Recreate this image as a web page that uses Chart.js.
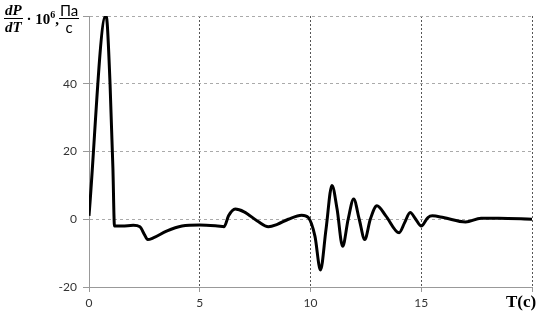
<!DOCTYPE html>
<html>
<head>
<meta charset="utf-8">
<script src="https://cdn.jsdelivr.net/npm/chart.js@4"></script>
<style>
  body { margin: 0; background: #fff; }
  #wrap { position: relative; width: 547px; height: 317px; }
  .frac { display: inline-block; vertical-align: middle; text-align: center; line-height: 16px; }
  .frac span { display: block; padding: 0 1px; }
  .frac .num { border-bottom: 1px solid #000; }
  #ytitle { position: absolute; left: 4px; top: 2px; font-family: 'Liberation Serif', serif; font-size: 15px; color: #000; white-space: nowrap; }
  #ytitle .dp { font-weight: bold; font-style: italic; }
  #ytitle .mid { font-weight: bold; vertical-align: middle; }
  #ytitle .unit { font-family: Lato, 'Liberation Sans', sans-serif; font-size: 15px; }
  #xtitle { position: absolute; left: 506px; top: 292px; font: bold 17px 'Liberation Serif', serif; color: #000; }
</style>
</head>
<body>
<div id="wrap">
  <canvas id="chart" width="547" height="317"></canvas>
  <div id="ytitle"><span class="frac dp"><span class="num">dP</span><span>dT</span></span><span class="mid"> · 10<sup style="font-size:10px">6</sup>,</span><span class="frac unit"><span class="num">Па</span><span>с</span></span></div>
  <div id="xtitle">T(c)</div>
</div>
<script>
// time, s
const timeValues = [0, 0.75, 0.82, 0.95, 1.08, 1.15, 1.5, 2.0, 2.3, 2.5, 2.65, 2.9, 3.5, 4.2, 5, 5.8, 6.1, 6.3, 6.6, 7.0,
  7.6, 8.1, 8.5, 9.0, 9.6, 9.9, 10.2, 10.45, 10.7, 10.97, 11.2, 11.45, 11.7, 11.95, 12.2, 12.45, 12.7, 13.0, 13.4, 14.0,
  14.25, 14.5, 14.75, 15.0, 15.3, 15.5, 16.0, 17.0, 17.7, 18.5, 20];
// dP/dT * 10^6, Pa/s
const rateValues = [1, 60, 58, 40, 15, -2, -2, -1.8, -2.2, -4.5, -6, -5.5, -3.5, -2, -1.7, -2, -2.2, 1, 3, 2.2,
  -0.5, -2.2, -1.5, 0, 1.2, 0.5, -5, -15, -3, 10, 3, -8, 0, 6, 0, -6, 0, 4, 1, -4,
  -1, 2, 0, -2, 0.5, 1, 0.5, -0.8, 0.3, 0.3, 0];
const xTicks = [0, 5, 10, 15, 20];
const yTicks = [-20, 0, 20, 40, 60];

const points = timeValues.map((t, i) => ({ x: t, y: rateValues[i] }));

const ctx = document.getElementById('chart').getContext('2d');
new Chart(ctx, {
  type: 'line',
  data: {
    datasets: [{
      data: points,
      borderColor: '#000',
      borderWidth: 3,
      pointRadius: 0,
      fill: false,
      cubicInterpolationMode: 'monotone'
    }]
  },
  options: {
    responsive: false,
    animation: false,
    layout: { padding: { top: 16, right: 15, left: 0, bottom: 0 } },
    plugins: { legend: { display: false }, tooltip: { enabled: false } },
    scales: {
      x: {
        type: 'linear',
        min: 0, max: 20,
        afterBuildTicks: s => { s.ticks = xTicks.map(v => ({ value: v })); },
        afterFit: s => { s.height = 30; },
        ticks: {
          callback: v => (v === 20 ? '' : v),
          color: '#333', font: { family: 'Lato', size: 12 }, maxRotation: 0, padding: 4
        },
        grid: { color: '#555', lineWidth: 1, tickColor: '#999', tickLength: 5, tickBorderDash: [] },
        border: { color: '#999', width: 1, dash: [2, 2] }
      },
      y: {
        min: -20, max: 60,
        afterBuildTicks: s => { s.ticks = yTicks.map(v => ({ value: v })); },
        afterFit: s => { s.width = 89; },
        ticks: {
          callback: v => (v === 60 ? '' : v),
          color: '#333', font: { family: 'Lato', size: 12 }, padding: 6
        },
        grid: { color: '#aaa', lineWidth: 1, tickColor: '#999', tickLength: 6, tickBorderDash: [] },
        border: { color: '#999', width: 1, dash: [3, 3] }
      }
    }
  }
});
</script>
</body>
</html>
